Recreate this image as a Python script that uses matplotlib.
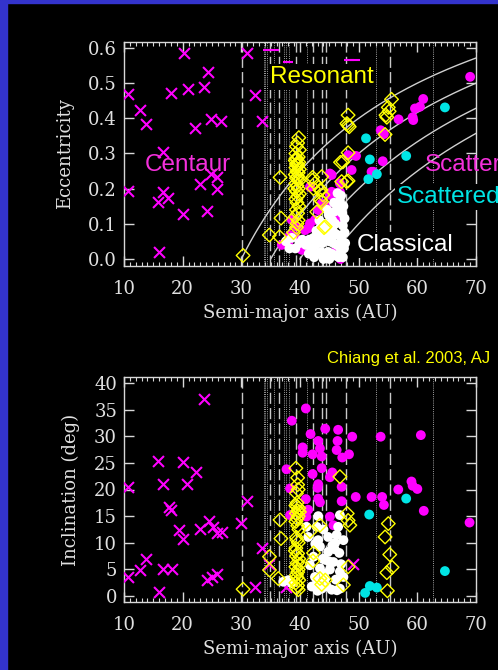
import numpy as np
import matplotlib.pyplot as plt
from matplotlib.patches import Rectangle
from matplotlib.ticker import MultipleLocator

# ---- top panel: eccentricity ----
cent_a_e = [10.7, 10.7, 12.8, 13.7, 16.0, 16.7, 15.85, 16.7, 17.55, 17.96, 20.0, 20.3, 20.85,
            22.1, 22.95, 23.7, 24.1, 24.4, 24.8, 24.8, 25.9, 25.8, 26.5, 30.9, 32.3, 33.5]
cent_e = [0.468, 0.194, 0.423, 0.384, 0.021, 0.303, 0.163, 0.191, 0.172, 0.472, 0.127, 0.587, 0.482,
          0.372, 0.212, 0.489, 0.137, 0.532, 0.398, 0.243, 0.234, 0.199, 0.393, 0.587, 0.466, 0.392]

scat_a_e = [69.0, 61.0, 60.45, 59.6, 59.2, 59.3, 56.8, 53.75, 54.3, 54.1, 52.2, 49.55, 48.8, 48.2,
            45.4, 46.8, 41.7, 45.1, 46.1, 45.4, 46.8, 44.55, 43.7, 43.1, 46.5, 46.8, 42.55, 41.7,
            41.4, 40.85, 39.4, 38.6, 38.3, 38.0, 39.15, 40.55, 41.7, 43.4, 46.25, 46.9, 40.0, 36.9,
            45.1, 37.7, 40.3, 46.25, 52.5]
scat_e = [0.518, 0.455, 0.433, 0.428, 0.403, 0.395, 0.397, 0.366, 0.355, 0.278, 0.248, 0.293, 0.253, 0.295,
          0.239, 0.215, 0.205, 0.182, 0.187, 0.191, 0.191, 0.149, 0.158, 0.139, 0.120, 0.111, 0.111, 0.101,
          0.087, 0.082, 0.092, 0.111, 0.068, 0.045, 0.063, 0.049, 0.040, 0.068, 0.030, 0.000, 0.030, 0.040,
          0.243, 0.045, 0.026, 0.115, 0.248]
clip_a_e = [34.5, 35.6, 37.9, 48.3, 49.3]
clip_e = [0.594, 0.594, 0.560, 0.565, 0.565]

cyan_a_e = [51.25, 51.9, 51.65, 53.1, 58.1, 64.7]
cyan_e = [0.343, 0.283, 0.227, 0.241, 0.293, 0.431]

class_a_e = [46.4, 47.0, 46.8, 47.4, 45.8, 47.2, 46.5, 47.6, 47.3, 47.6, 47.0, 45.9, 45.5, 44.9, 44.3,
             45.0, 45.6, 46.2, 44.0, 43.5, 42.8, 42.3, 41.6, 41.0, 40.4, 39.9, 39.2, 38.6, 38.2, 37.6,
             42.0, 42.7, 43.2, 43.8, 44.4, 45.0, 45.7, 46.3, 46.9, 47.5, 43.0, 43.6, 44.2, 44.8, 45.4,
             46.0, 46.6, 47.3, 42.4, 44.0, 45.0, 41.5, 43.3, 44.6, 46.0, 47.7, 44.5, 43.0, 45.3]
class_e = [0.187, 0.180, 0.165, 0.150, 0.160, 0.130, 0.140, 0.115, 0.095, 0.075, 0.060, 0.135, 0.110, 0.125, 0.100,
           0.090, 0.080, 0.070, 0.075, 0.090, 0.080, 0.060, 0.055, 0.040, 0.055, 0.045, 0.030, 0.060, 0.030, 0.050,
           0.030, 0.040, 0.055, 0.045, 0.055, 0.050, 0.045, 0.040, 0.030, 0.030, 0.015, 0.020, 0.015, 0.020, 0.015,
           0.010, 0.005, 0.005, 0.005, 0.000, 0.000, 0.015, 0.110, 0.140, 0.100, 0.045, 0.080, 0.070, 0.065]

res_a_e = [30.3, 34.77, 36.5, 36.6, 36.76,
           39.8, 39.6, 39.4, 39.9, 39.3, 39.7, 39.5, 39.2, 39.8, 39.4, 39.6, 39.3, 39.9, 39.5, 39.7,
           39.2, 39.6, 39.4, 39.8, 39.3, 39.5, 39.7, 39.4, 39.9, 39.6, 39.3, 39.5, 39.8, 39.4, 39.6,
           39.2, 39.7, 39.5, 39.4, 38.9, 39.6, 39.3, 39.8, 39.1,
           42.1, 42.55, 43.7, 43.6, 43.9, 42.85, 43.7, 44.1, 42.15, 43.4, 43.5, 44.3, 42.3,
           48.2, 48.4, 48.0, 48.2, 46.9, 47.1, 48.2, 47.3, 47.95, 48.2,
           55.6, 55.05, 54.65, 55.2, 54.8, 54.5]
res_e = [0.010, 0.068, 0.063, 0.232, 0.116,
         0.345, 0.330, 0.320, 0.310, 0.300, 0.290, 0.285, 0.280, 0.275, 0.270, 0.265, 0.260, 0.255, 0.250, 0.245,
         0.240, 0.235, 0.230, 0.222, 0.215, 0.208, 0.200, 0.192, 0.185, 0.178, 0.170, 0.160, 0.150, 0.140, 0.130,
         0.120, 0.110, 0.100, 0.090, 0.075, 0.270, 0.285, 0.230, 0.200,
         0.224, 0.215, 0.234, 0.196, 0.182, 0.134, 0.163, 0.089, 0.232, 0.196, 0.168, 0.092, 0.200,
         0.409, 0.376, 0.385, 0.302, 0.275, 0.220, 0.222, 0.276, 0.220, 0.380,
         0.454, 0.431, 0.409, 0.420, 0.403, 0.354]

# ---- bottom panel: inclination ----
cent_a_i = [10.7, 10.7, 12.7, 13.7, 16.0, 15.85, 16.6, 16.7, 17.7, 17.96, 18.1, 19.4, 20.1, 20.1, 20.8,
            22.2, 23.0, 23.7, 24.1, 24.5, 25.05, 25.2, 25.9, 25.9, 26.65, 29.9, 30.9, 32.4, 33.5, 34.8,
            37.6, 49.1]
cent_i = [20.5, 3.6, 4.9, 6.9, 0.7, 25.3, 21.0, 5.0, 16.8, 16.2, 5.0, 12.4, 10.8, 25.1, 21.0,
          23.2, 12.6, 37.0, 3.1, 14.1, 3.6, 13.0, 4.1, 11.8, 12.1, 13.8, 17.9, 1.8, 9.1, 6.1,
          1.8, 6.1]

scat_a_i = [41.0, 38.6, 41.8, 44.3, 46.5, 43.1, 46.4, 48.9, 53.75, 60.6, 40.45, 40.45, 42.15, 43.4,
            43.7, 46.25, 47.2, 48.35, 37.7, 42.15, 43.7, 45.1, 45.5, 38.3, 43.1, 43.0, 47.1, 41.0,
            43.1, 43.4, 47.1, 49.5, 52.2, 54.0, 54.3, 56.75, 59.0, 59.2, 60.0, 61.1, 68.9, 41.4,
            41.1, 45.1, 45.7, 38.3]
scat_i = [35.2, 32.9, 30.4, 31.4, 31.2, 29.1, 29.1, 29.9, 29.9, 30.2, 27.9, 26.9, 26.6, 27.7,
          26.2, 27.4, 26.0, 26.6, 23.8, 22.9, 24.0, 22.3, 23.2, 20.2, 21.0, 20.3, 20.5, 18.2,
          18.3, 17.6, 17.8, 18.6, 18.6, 18.6, 17.1, 20.0, 21.5, 20.7, 20.1, 16.0, 13.8, 16.2,
          14.9, 14.9, 13.3, 15.2]

cyan_a_i = [51.8, 58.1, 64.7, 51.9, 53.1, 51.1]
cyan_i = [15.3, 18.3, 4.7, 1.9, 1.6, 0.6]

class_a_i = [43.1, 46.8, 41.4, 43.1, 44.8, 46.25, 46.0, 43.4, 44.8, 46.7, 42.3, 44.3, 45.7, 41.7, 43.4,
             45.1, 46.8, 42.55, 44.3, 46.1, 47.4, 42.0, 43.7, 45.4, 46.8, 38.0, 37.15, 41.1, 46.5, 47.4,
             42.85, 44.0, 45.5, 43.9, 45.0, 42.9, 44.6, 47.0, 42.6, 45.9, 44.1, 43.0, 46.3, 38.6]
class_i = [15.0, 15.2, 11.1, 10.5, 11.1, 11.5, 10.0, 9.3, 8.3, 8.1, 7.4, 6.8, 6.4, 5.8, 5.2,
           5.0, 4.6, 3.6, 3.3, 3.1, 3.6, 1.8, 1.4, 1.2, 1.4, 3.0, 2.7, 13.0, 13.0, 10.5,
           13.0, 12.5, 9.5, 7.0, 6.5, 2.5, 1.8, 6.0, 9.8, 8.8, 4.2, 1.0, 1.1, 2.4]

res_a_i = [30.3, 34.8, 34.8, 36.3, 36.75, 36.6,
           39.3, 39.6, 39.6, 39.7, 39.4, 39.5, 39.3, 39.8, 39.6, 39.4, 39.7, 39.5, 39.3, 39.6, 39.8,
           39.4, 39.5, 39.7, 39.3, 39.6, 39.4, 39.8, 39.5, 39.3, 39.7, 39.6, 39.4, 39.5, 39.8, 39.3,
           39.6, 39.4, 39.7, 39.5, 39.9, 39.2, 40.0,
           46.8, 41.7, 43.4, 42.3, 42.2, 43.4, 43.7, 44.3, 47.4, 48.2, 48.05, 48.5, 48.2,
           55.05, 54.5, 55.3, 55.7, 54.8, 54.9]
res_i = [1.3, 7.4, 4.9, 3.3, 10.8, 14.3,
         24.0, 22.2, 20.9, 20.0, 19.3, 17.5, 17.0, 16.5, 16.0, 15.5, 15.0, 14.5, 14.0, 13.2, 12.5,
         11.0, 10.5, 10.0, 9.0, 8.0, 7.5, 7.0, 6.2, 5.5, 5.0, 4.5, 4.0, 3.5, 3.0, 2.5,
         2.0, 1.5, 1.2, 16.8, 15.8, 8.5, 6.0,
         22.4, 12.1, 13.3, 8.1, 6.6, 3.3, 2.2, 3.0, 2.1, 5.5, 15.5, 13.3, 14.2,
         13.6, 11.1, 7.8, 5.4, 4.4, 1.0]

# resonance locations (AU) and perihelion curves (AU)
dashed_a = [30.1, 34.9, 36.4, 39.4, 42.3, 43.7, 44.5, 47.8, 55.4]
dotted_a = [33.8, 34.1, 34.4, 35.5, 37.2, 37.6, 38.1, 41.2, 52.9, 62.6]
perihelia = [30, 35, 40, 45]

MAG = "#ff00ff"
MAG_TXT = "#f530dc"
CYAN = "#00e5e5"
YEL = "#ffff00"
GREY = "#d8d8d8"

plt.rcParams["font.family"] = "DejaVu Serif"

fig = plt.figure(figsize=(4.98, 6.70), dpi=100, facecolor="black")
fig.patches.append(Rectangle((0, 0), 7 / 498, 1, transform=fig.transFigure, color="#3333cc", zorder=0))
fig.patches.append(Rectangle((0, 1 - 3 / 670), 1, 3 / 670, transform=fig.transFigure, color="#3333cc", zorder=0))

ax1 = fig.add_axes([124 / 498, 1 - 266 / 670, 352 / 498, 224 / 670])
ax2 = fig.add_axes([124 / 498, 1 - 602 / 670, 352 / 498, 225 / 670])


def style(ax):
    ax.set_facecolor("black")
    for s in ax.spines.values():
        s.set_color(GREY)
        s.set_linewidth(1.0)
    ax.tick_params(which="both", direction="in", top=True, right=True, colors=GREY,
                   labelcolor="#e0e0e0", labelsize=13)
    ax.tick_params(which="major", length=7, width=1)
    ax.tick_params(which="minor", length=3, width=0.8)
    ax.tick_params(axis="x", pad=10)
    ax.tick_params(axis="y", pad=5)
    ax.set_xlim(10, 70)
    ax.xaxis.set_major_locator(MultipleLocator(10))
    ax.xaxis.set_minor_locator(MultipleLocator(1))
    ax.set_xlabel("Semi-major axis (AU)", color="#e0e0e0", fontsize=13, labelpad=4)
    for a in dashed_a:
        ax.axvline(a, color="#c8c8c8", lw=1.0, ls=(0, (8, 3)), zorder=1)
    for a in dotted_a:
        ax.axvline(a, color="#a0a0a0", lw=0.7, ls=(0, (1, 1.2)), zorder=1)


def scatter_all(ax, cent, scat, cyan, clas, res):
    ax.scatter(*cent, marker="x", s=62, color=MAG, linewidths=1.5, zorder=3)
    ax.scatter(*scat, marker="o", s=50, color=MAG, edgecolors="none", zorder=4)
    ax.scatter(*clas, marker="o", s=50, color="white", edgecolors="none", zorder=5)
    ax.scatter(*cyan, marker="o", s=50, color=CYAN, edgecolors="none", zorder=5)
    ax.scatter(*res, marker="D", s=48, facecolors="none", edgecolors=YEL, linewidths=1.0, zorder=6)


# top panel
style(ax1)
ax1.set_ylim(-0.02, 0.617)
ax1.yaxis.set_major_locator(MultipleLocator(0.1))
ax1.yaxis.set_major_formatter(plt.FormatStrFormatter("%.1f"))
ax1.set_ylabel("Eccentricity", color="#e0e0e0", fontsize=13, labelpad=10)
for q in perihelia:
    aa = np.linspace(q, 70, 200)
    ax1.plot(aa, 1 - q / aa, color="#d0d0d0", lw=1.0, zorder=2)
scatter_all(ax1, (cent_a_e, cent_e), (scat_a_e, scat_e), (cyan_a_e, cyan_e),
            (class_a_e, class_e), (res_a_e, res_e))
ax1.scatter(clip_a_e, clip_e, marker="_", s=60, color=MAG, linewidths=1.5, zorder=4)

lab = dict(family="Liberation Sans", fontsize=17.5, va="baseline", zorder=10)
box = dict(facecolor="black", edgecolor="none", pad=1.5)
ax1.text(34.9, 0.50, "Resonant", color=YEL, bbox=box, **lab)
ax1.text(13.6, 0.25, "Centaur", color=MAG_TXT, **lab)
ax1.text(61.3, 0.25, "Scattered", color=MAG_TXT, clip_on=False, **lab)
ax1.text(56.5, 0.159, "Scattered", color=CYAN, bbox=box, clip_on=False, **lab)
ax1.text(49.7, 0.023, "Classical", color="white", bbox=box, **lab)

# bottom panel
style(ax2)
ax2.set_ylim(-1.1, 41.1)
ax2.yaxis.set_major_locator(MultipleLocator(5))
ax2.set_ylabel("Inclination (deg)", color="#e0e0e0", fontsize=13, labelpad=10)
scatter_all(ax2, (cent_a_i, cent_i), (scat_a_i, scat_i), (cyan_a_i, cyan_i),
            (class_a_i, class_i), (res_a_i, res_i))

fig.text(490 / 498, 1 - 363 / 670, "Chiang et al. 2003, AJ", color=YEL, family="Liberation Sans",
         fontsize=12, ha="right", va="baseline")

fig.savefig("out.png", dpi=100, facecolor=fig.get_facecolor())
